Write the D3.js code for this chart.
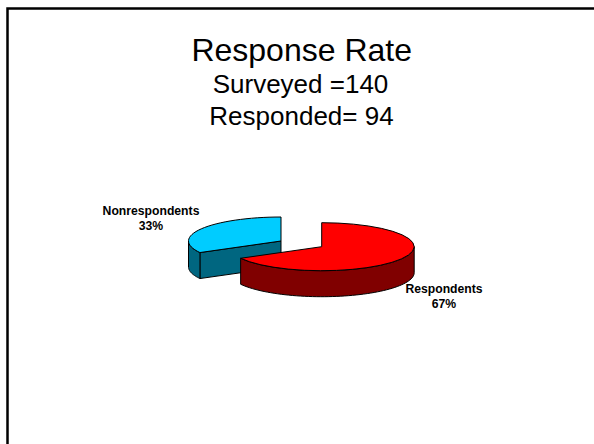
<!DOCTYPE html>
<html><head><meta charset="utf-8">
<script src="https://cdn.jsdelivr.net/npm/d3@7"></script>
<style>html,body{margin:0;padding:0;background:#fff}svg{display:block}text{font-family:"Liberation Sans",Arial,sans-serif;fill:#000;text-anchor:middle}</style>
</head><body>
<script>
const categories = ["Respondents", "Nonrespondents"];
const values = [67, 33];
const percentLabels = ["67%", "33%"];
const topColors = ["#ff0000", "#00ccff"];
const sideColors = ["#800000", "#006680"];
const titleLines = ["Response Rate", "Surveyed =140", "Responded= 94"];

const W = 594, H = 444, rx = 92.5, ry = 24, depth = 26;
const centers = [[321.7, 246.7], [281, 241]];
const labelPos = [[444, 292.5, 308], [151, 215, 230]];

const svg = d3.select("body").append("svg").attr("width", W).attr("height", H);
svg.append("rect").attr("width", W).attr("height", H).attr("fill", "#fff");
svg.append("path").attr("d", `M7.5 ${H} V8.5 H${W}`).attr("fill", "none").attr("stroke", "#000").attr("stroke-width", 2.5);

const title = svg.append("g");
title.append("text").attr("x", 301.7).attr("y", 60.5).attr("font-size", 32).text(titleLines[0]);
title.append("text").attr("x", 300.5).attr("y", 93).attr("font-size", 26).text(titleLines[1]);
title.append("text").attr("x", 301.5).attr("y", 124.5).attr("font-size", 26).text(titleLines[2]);

const arcs = d3.pie().sort(null)(values);
const arcGen = d3.arc().innerRadius(0).outerRadius(rx);
const line = d3.line();
const pt = (c, a, dy = 0) => [c[0] + rx * Math.sin(a), c[1] - ry * Math.cos(a) + dy];

function wallPath(c, a0, a1) {
  const n = 60, s = d3.range(n + 1).map(i => a0 + (a1 - a0) * i / n);
  return line([...s.map(a => pt(c, a)), ...s.reverse().map(a => pt(c, a, depth))]) + "Z";
}
function cutPath(c, a) {
  return line([c, pt(c, a), pt(c, a, depth), [c[0], c[1] + depth]]) + "Z";
}
const stroke = s => s.attr("stroke", "#000").attr("stroke-width", 1).attr("stroke-linejoin", "round");

// draw back slice (Nonrespondents) first, so the red slice overlaps it
[1, 0].forEach(i => {
  const d = arcs[i], c = centers[i], g = svg.append("g");
  if (i === 1) {
    g.append("path").attr("d", cutPath(c, d.startAngle)).attr("fill", sideColors[i]).call(stroke);
    g.append("path").attr("d", wallPath(c, d.startAngle, 3 * Math.PI / 2)).attr("fill", sideColors[i]).call(stroke);
  } else {
    g.append("path").attr("d", wallPath(c, Math.PI / 2, d.endAngle)).attr("fill", sideColors[i]).call(stroke);
  }
  g.append("path").attr("d", arcGen(d))
    .attr("transform", `translate(${c[0]},${c[1]}) scale(1,${ry / rx})`)
    .attr("vector-effect", "non-scaling-stroke")
    .attr("fill", topColors[i]).call(stroke);
});

categories.forEach((name, i) => {
  const [x, y1, y2] = labelPos[i];
  svg.append("text").attr("x", x).attr("y", y1).attr("font-size", 12.2).attr("font-weight", "bold").text(name);
  svg.append("text").attr("x", x).attr("y", y2).attr("font-size", 12.2).attr("font-weight", "bold").text(percentLabels[i]);
});
</script>
</body></html>
